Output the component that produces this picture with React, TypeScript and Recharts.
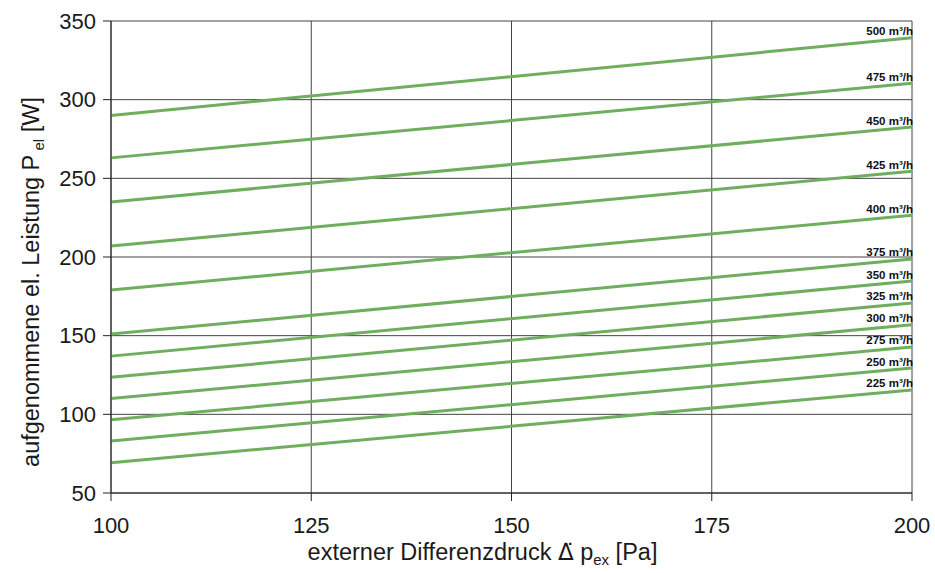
import { LineChart, Line, XAxis, YAxis, CartesianGrid, Label } from "recharts";

// external pressure difference [Pa]
const pressure = [100, 200];
// air flow in m³/h per curve
const flows = ["500", "475", "450", "425", "400", "375", "350", "325", "300", "275", "250", "225"];
// power at 100 Pa and at 200 Pa
const powerAt100 = [290, 263, 235, 207, 179, 151, 137, 123.5, 110, 96.5, 83, 69.3];
const powerAt200 = [339.3, 310.5, 282.6, 254.5, 226.5, 198.8, 184.7, 170.8, 156.9, 142.8, 129.4, 115.5];

const xTicks = [100, 125, 150, 175, 200];
const yTicks = [50, 100, 150, 200, 250, 300, 350];

const data = pressure.map((p, i) => {
  const row: Record<string, number> = { p };
  flows.forEach((f, k) => {
    row["q" + f] = i === 0 ? powerAt100[k] : powerAt200[k];
  });
  return row;
});

const FONT = '"Liberation Sans", Arial, sans-serif';
const GREEN = "#6fae5f";
const TICK_SIZE = 22;
const TITLE_SIZE = 23.5;

const endLabel = (flow: string) => (props: any) => {
  if (props.index !== pressure.length - 1) return null;
  return (
    <text
      x={props.x + 1}
      y={props.y - 2.5}
      textAnchor="end"
      fontFamily={FONT}
      fontSize={11.5}
      fontWeight="bold"
      fill="#111"
    >
      {flow} m³/h
    </text>
  );
};

const XTitle = (props: any) => {
  const vb = props.viewBox;
  return (
    <text x={vb.x + vb.width / 2 - 29} y={vb.y + 67} textAnchor="middle" fontFamily={FONT} fontSize={TITLE_SIZE} fill="#1a1a1a">
      {"externer Differenzdruck "}
      <tspan fontFamily='"DejaVu Sans", sans-serif' fontSize={23}>{"\u0394\u0308"}</tspan>
      <tspan>{" p"}</tspan>
      <tspan dy={5} fontSize={15}>ex</tspan>
      <tspan dy={-5}>{" [Pa]"}</tspan>
    </text>
  );
};

const YTitle = (props: any) => {
  const vb = props.viewBox;
  const cx = 39;
  const cy = vb.y + vb.height / 2 + 25;
  return (
    <text
      x={cx}
      y={cy}
      transform={`rotate(-90 ${cx} ${cy})`}
      textAnchor="middle"
      fontFamily={FONT}
      fontSize={TITLE_SIZE}
      fill="#1a1a1a"
    >
      {"aufgenommene el. Leistung P"}
      <tspan dy={5} fontSize={15}>{" el"}</tspan>
      <tspan dy={-5}>{" [W]"}</tspan>
    </text>
  );
};

export default function App() {
  return (
    <div style={{ position: "absolute", left: 0, top: 0, background: "#fff" }}>
      <LineChart width={935} height={573} data={data} margin={{ top: 21, right: 23, left: 0, bottom: 0 }}>
        <CartesianGrid stroke="#444" strokeWidth={1} />
        <XAxis
          type="number"
          dataKey="p"
          domain={[100, 200]}
          ticks={xTicks}
          height={80}
          tickSize={8}
          tickMargin={16}
          stroke="#222"
          tick={{ fontSize: TICK_SIZE, fill: "#1a1a1a", fontFamily: FONT }}
        >
          <Label content={XTitle} />
        </XAxis>
        <YAxis
          type="number"
          domain={[50, 350]}
          ticks={yTicks}
          width={111}
          tickSize={8}
          tickMargin={7}
          stroke="#222"
          tick={{ fontSize: TICK_SIZE, fill: "#1a1a1a", fontFamily: FONT }}
        >
          <Label content={YTitle} />
        </YAxis>
        {flows.map((f) => (
          <Line
            key={f}
            type="linear"
            dataKey={"q" + f}
            stroke={GREEN}
            strokeWidth={3}
            dot={false}
            label={endLabel(f)}
            isAnimationActive={false}
          />
        ))}
      </LineChart>
    </div>
  );
}
